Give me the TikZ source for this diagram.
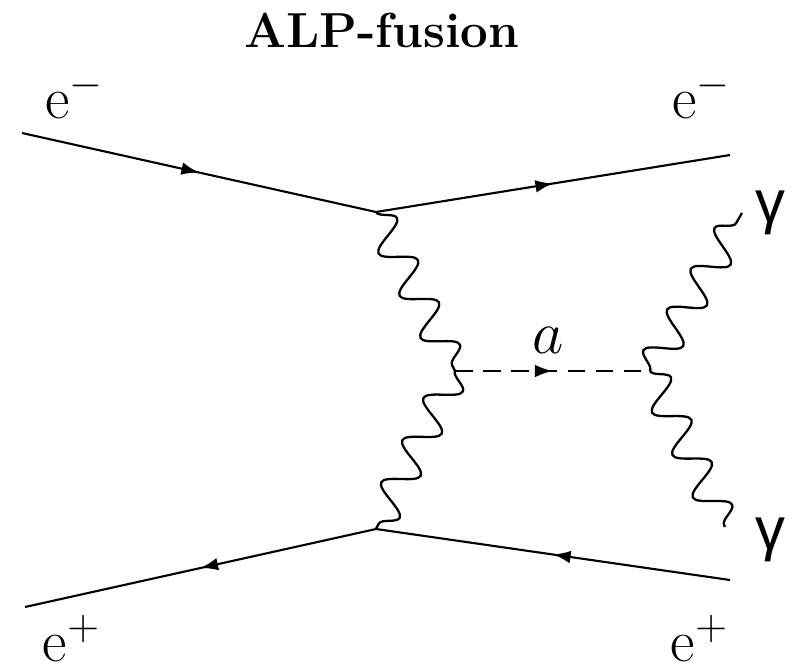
\documentclass[tikz,border=0pt]{standalone}
\usepackage{amsmath}
\usepackage{fontspec}
\newfontfamily\greekfont{Liberation Sans}
\usetikzlibrary{arrows.meta,decorations.pathmorphing,decorations.markings}

\begin{document}
\begin{tikzpicture}[x=0.01cm,y=-0.01cm,
    fermion/.style={line width=.6pt,postaction={decorate},
      decoration={markings,mark=at position .5 with {\arrow{Latex[length=5pt,width=3.6pt]}}}},
    photon/.style={line width=.65pt,decorate,
      decoration={snake,amplitude=4.6pt,segment length=13.4pt}},
    scalar/.style={line width=.6pt,dash pattern=on 5pt off 3pt,postaction={decorate},
      decoration={markings,mark=at position .5 with {\arrow{Latex[length=5pt,width=3.6pt]}}}},
    lbl/.style={font=\fontsize{17}{20}\selectfont,inner sep=1pt}]
      \useasboundingbox (0,0) rectangle (805,669);
      % vertices and external legs
      \coordinate (vtop) at (376,212);
      \coordinate (vmid) at (455,371);
      \coordinate (vbot) at (376,529);
      \coordinate (vright) at (650,371);
      \coordinate (einL) at (22,133);
      \coordinate (eoutR) at (730,155);
      \coordinate (pinR) at (730,580);
      \coordinate (poutL) at (25,607);
      \coordinate (gtop) at (742,213);
      \coordinate (gbot) at (725,527);
      % lines
      \draw[fermion] (einL) -- (vtop);
      \draw[fermion] (vtop) -- (eoutR);
      \draw[fermion] (pinR) -- (vbot);
      \draw[fermion] (vbot) -- (poutL);
      \draw[photon] (vtop) -- (vmid);
      \draw[photon] (vmid) -- (vbot);
      \draw[scalar] (vmid) -- (vright);
      \draw[photon] (vright) -- (gtop);
      \draw[photon] (vright) -- (gbot);
      % labels
      \node[font=\bfseries\fontsize{14}{17}\selectfont] (title) at (382,30) {ALP-fusion};
      \node[lbl] (eminL) at (75,95) {e$^{-}$};
      \node[lbl] (eminR) at (702,95) {e$^{-}$};
      \node[lbl] (eplusL) at (72,639) {e$^{+}$};
      \node[lbl] (eplusR) at (700,639) {e$^{+}$};
      \node[lbl] (gamT) at (770,213) {\greekfont γ};
      \node[lbl] (gamB) at (770,540) {\greekfont γ};
      \node[lbl] (alp) at (548,340) {$a$};
    \end{tikzpicture}
\end{document}
